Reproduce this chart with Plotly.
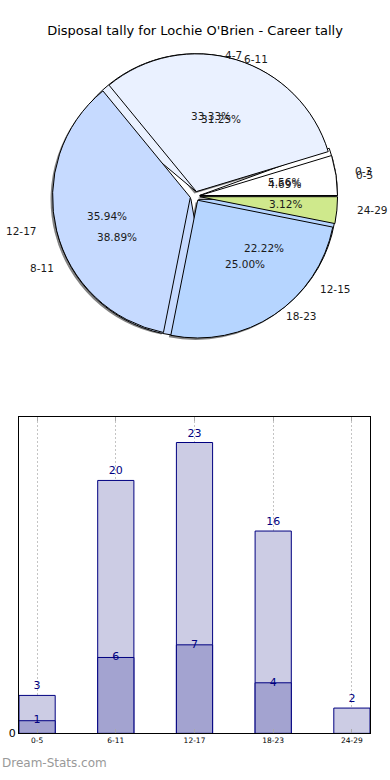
import math
import plotly.graph_objects as go

# ---- data ----
title_text = "Disposal tally for Lochie O'Brien - Career tally"
career_labels = ["0-5", "6-11", "12-17", "18-23", "24-29"]
career_values = [3, 20, 23, 16, 2]
recent_labels = ["0-3", "4-7", "8-11", "12-15"]
recent_values = [1, 6, 7, 4]
bar_recent = [1, 6, 7, 4, None]

career_colors = ["#FFFFFF", "#EAF1FF", "#C6DAFF", "#B6D5FF", "#CFE98C"]
recent_colors = ["#FFFFFF", "#EAF1FF", "#C6DAFF", "#B6D5FF"]

FONT = "DejaVu Sans"
W, H = 390, 780
TXT = "#1a1a1a"
PIE_FS = 10.5


def pct_text(vals):
    t = sum(vals)
    return [f"{v / t * 100:.2f}%" for v in vals]


def mid_angles(vals):
    t = sum(vals)
    out, c = [], 0
    for v in vals:
        out.append(2 * math.pi * (c + v / 2) / t)
        c += v
    return out


def rev(a):
    return list(reversed(a))


# pie geometry (pixels)
cx, cy = 195, 198
RX, RY = 146, 132          # label ellipse radii
pull = 0.035
r = 139


def dom(cxp, cyp, half):
    return dict(x=[(cxp - half) / W, (cxp + half) / W],
                y=[1 - (cyp + half) / H, 1 - (cyp - half) / H])


half_main = r * (1 + pull)

fig = go.Figure()
common = dict(sort=False, direction="clockwise", rotation=90,
              hoverinfo="skip", showlegend=False, textinfo="none")

# shadow
fig.add_trace(go.Pie(labels=rev(career_labels), values=rev(career_values),
                     marker=dict(colors=["#5a5a5a"] * 5, line=dict(width=0)),
                     pull=pull, opacity=0.75,
                     domain=dom(cx - 2, cy + 2, half_main), **common))
# bottom pie (recent)
fig.add_trace(go.Pie(labels=rev(recent_labels), values=rev(recent_values),
                     marker=dict(colors=rev(recent_colors), line=dict(color="#000000", width=1)),
                     pull=pull, domain=dom(cx, cy, half_main), **common))
# top pie (career)
fig.add_trace(go.Pie(labels=rev(career_labels), values=rev(career_values),
                     marker=dict(colors=rev(career_colors), line=dict(color="#000000", width=1)),
                     pull=pull, domain=dom(cx, cy, half_main), **common))

# ---- pie texts as annotations on hidden helper axes (units = px from centre) ----
annotations = []
for labs, vals in [(career_labels, career_values), (recent_labels, recent_values)]:
    angs = mid_angles(vals)
    for lab, pt, a in zip(labs, pct_text(vals), angs):
        c, s = math.cos(a), math.sin(a)
        annotations.append(dict(xref="x2", yref="y2", x=0.62 * RX * c, y=0.62 * RY * s,
                                text=pt, showarrow=False, xanchor="center", yanchor="middle",
                                font=dict(family=FONT, size=PIE_FS, color=TXT)))
        annotations.append(dict(xref="x2", yref="y2", x=1.1 * RX * c, y=1.1 * RY * s,
                                text=lab, showarrow=False,
                                xanchor="left" if c >= 0 else "right", yanchor="middle",
                                font=dict(family=FONT, size=PIE_FS, color=TXT)))

# ---- bar chart ----
fig.add_trace(go.Bar(x=career_labels, y=career_values, width=0.46,
                     marker=dict(color="#CCCCE4", line=dict(color="#000080", width=1)),
                     text=[str(v) for v in career_values], textposition="outside",
                     textfont=dict(family=FONT, size=11, color="#000080"), cliponaxis=False,
                     hoverinfo="skip", showlegend=False, xaxis="x", yaxis="y"))
fig.add_trace(go.Bar(x=career_labels, y=bar_recent, width=0.46,
                     marker=dict(color="#A3A3D0", line=dict(color="#000080", width=1)),
                     hoverinfo="skip", showlegend=False, xaxis="x", yaxis="y"))
fig.add_trace(go.Scatter(x=career_labels, y=bar_recent, mode="text",
                         text=[str(v) if v is not None else "" for v in bar_recent],
                         textposition="middle center",
                         textfont=dict(family=FONT, size=11, color="#000080"),
                         hoverinfo="skip", showlegend=False, cliponaxis=False))

annotations.append(dict(text="Dream-Stats.com", xref="paper", yref="paper", x=0, y=1 - 770 / H,
                        xanchor="left", yanchor="middle", showarrow=False,
                        font=dict(family=FONT, size=12, color="#999999")))

fig.update_layout(
    width=W, height=H,
    margin=dict(l=0, r=0, t=0, b=0),
    paper_bgcolor="white", plot_bgcolor="rgba(0,0,0,0)",
    barmode="overlay",
    uniformtext=dict(minsize=11, mode="show"),
    font=dict(family=FONT, color="#000000"),
    title=dict(text=title_text, x=0.5, xanchor="center", y=1 - 30 / H, yanchor="middle",
               font=dict(family=FONT, size=13, color="#000000")),
    xaxis=dict(domain=[19 / W, 370 / W], range=[-0.23, 4.23], type="category",
               showgrid=True, gridcolor="#C4C4C4", griddash="2px,2px", gridwidth=1,
               showline=True, linecolor="#000000", linewidth=1, mirror="ticks",
               ticks="inside", ticklen=4, tickcolor="#AAAAAA",
               tickfont=dict(family=FONT, size=7.5, color="#000000"), fixedrange=True,
               anchor="y"),
    yaxis=dict(domain=[1 - 740 / H, 1 - 421 / H], range=[0, 25],
               showgrid=False, zeroline=False, tickvals=[0], ticktext=["0"],
               showline=True, linecolor="#000000", linewidth=1, mirror=True,
               tickfont=dict(family=FONT, size=11, color="#000000"), fixedrange=True,
               anchor="x"),
    xaxis2=dict(domain=[0, 1], range=[-cx, W - cx], visible=False, fixedrange=True, anchor="y2"),
    yaxis2=dict(domain=[0, 1], range=[cy - H, cy], visible=False, fixedrange=True, anchor="x2"),
    annotations=annotations,
)

fig.write_html("out.html", config={"displayModeBar": False},
               post_script="document.body.style.margin='0';")
